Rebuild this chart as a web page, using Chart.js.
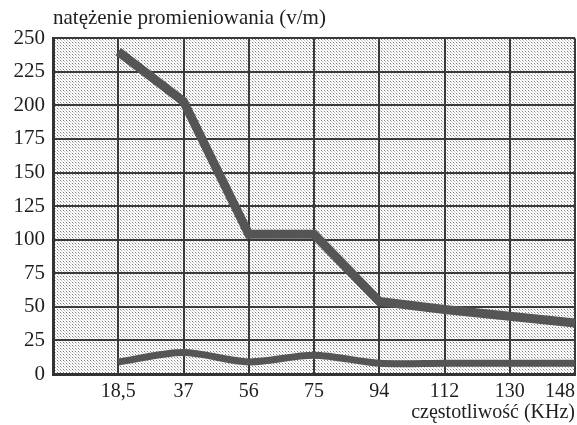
<!DOCTYPE html>
<html>
<head>
<meta charset="utf-8">
<script src="https://cdn.jsdelivr.net/npm/chart.js@4"></script>
<style>
  html, body { margin: 0; padding: 0; background: #fff; }
  #box { width: 577px; height: 425px; }
</style>
</head>
<body>
<div id="box"><canvas id="myLine"></canvas></div>
<script>
// frequencies (KHz), first column of the grid is empty
const freqs = ["18,5", "37", "56", "75", "94", "112", "130", "148"];
const upper = [240, 203, 104, 104, 54, 48, 43, 38];
const lower = [9, 16, 9, 14, 8, 8, 8, 8];
const yTicks = [0, 25, 50, 75, 100, 125, 150, 175, 200, 225, 250];

const labels = [""].concat(freqs);

// halftone dot background of the plot area
const tile = document.createElement("canvas");
tile.width = 3; tile.height = 3;
const tc = tile.getContext("2d");
tc.fillStyle = "#ffffff";
tc.fillRect(0, 0, 3, 3);
tc.fillStyle = "#808080";
tc.fillRect(0, 0, 1, 1);
tc.fillStyle = "#bdbdbd";
tc.fillRect(1, 1, 1, 1);
tc.fillStyle = "#e2e2e2";
tc.fillRect(2, 2, 1, 1);

const dots = {
  id: "dots",
  beforeDraw(chart) {
    const c = chart.ctx, a = chart.chartArea;
    c.save();
    c.fillStyle = c.createPattern(tile, "repeat");
    c.fillRect(a.left, a.top, a.right - a.left, a.bottom - a.top);
    c.restore();
  }
};

const serif = "'Liberation Serif', 'DejaVu Serif', serif";

let a = document.getElementById("myLine");
let lineChart = new Chart(a, {
  type: 'line',
  data: {
    labels: labels,
    datasets: [{
      data: [null].concat(upper),
      borderColor: "#555555",
      borderWidth: 9,
      borderJoinStyle: 'miter',
      borderCapStyle: 'butt',
      pointRadius: 0,
      fill: false,
      tension: 0
    }, {
      data: [null].concat(lower),
      borderColor: "#555555",
      borderWidth: 7,
      borderJoinStyle: 'round',
      borderCapStyle: 'butt',
      pointRadius: 0,
      fill: false,
      tension: 0.3
    }]
  },
  options: {
    responsive: true,
    maintainAspectRatio: false,
    animation: false,
    layout: { padding: { left: 0, right: 2, top: 0, bottom: 0 } },
    plugins: {
      legend: { display: false },
      tooltip: { enabled: false },
      title: {
        display: true,
        text: "natężenie promieniowania (v/m)",
        align: 'start',
        fullSize: false,
        color: "#1e1e1e",
        font: { family: serif, size: 21, weight: 'normal' },
        padding: { top: 6, bottom: 7 }
      }
    },
    scales: {
      x: {
        offset: false,
        grid: { color: "#3a3a3a", lineWidth: 2, drawTicks: false },
        border: { color: "#333333", width: 3 },
        ticks: {
          color: "#1e1e1e",
          align: 'inner',
          maxRotation: 0,
          autoSkip: false,
          padding: 6,
          font: { family: serif, size: 20 }
        },
        title: {
          display: true,
          text: "częstotliwość (KHz)",
          align: 'end',
          color: "#1e1e1e",
          font: { family: serif, size: 20 },
          padding: { top: 2, bottom: 0 }
        },
        afterFit(s) { s.height = 51; s.paddingRight = 0; s.paddingLeft = 0; }
      },
      y: {
        min: 0,
        max: 250,
        afterBuildTicks(s) { s.ticks = yTicks.map(v => ({ value: v })); },
        grid: { color: "#3a3a3a", lineWidth: 2, drawTicks: false },
        border: { color: "#333333", width: 3 },
        ticks: {
          color: "#1e1e1e",
          padding: 8,
          font: { family: serif, size: 21 }
        },
        afterFit(s) { s.width = 53; }
      }
    }
  },
  plugins: [dots]
});
</script>
</body>
</html>
